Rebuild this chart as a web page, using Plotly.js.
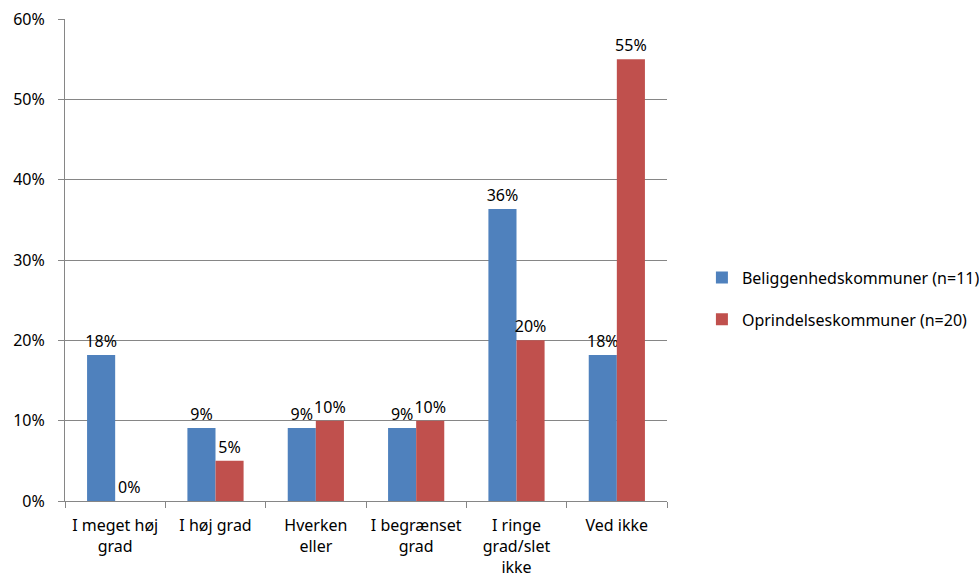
<!DOCTYPE html>
<html><head><meta charset="utf-8">
<script src="https://cdn.plot.ly/plotly-3.0.1.min.js"></script>
<style>html,body{margin:0;padding:0;background:#fff}</style>
</head><body>
<div id="chart" style="width:979px;height:582px"></div>
<script>
const categories = ["I meget høj<br>grad", "I høj grad", "Hverken<br>eller", "I begrænset<br>grad", "I ringe<br>grad/slet<br>ikke", "Ved ikke"];
const seriesNames = ["Beliggenhedskommuner (n=11)", "Oprindelseskommuner (n=20)"];
const beliggenhed = [0.1818, 0.0909, 0.0909, 0.0909, 0.3636, 0.1818];
const oprindelse = [0.00, 0.05, 0.10, 0.10, 0.20, 0.55];
const tickVals = [0, 0.1, 0.2, 0.3, 0.4, 0.5, 0.6];

const font = {family: "Noto Sans, Liberation Sans, sans-serif", size: 16, color: "#000"};
const mk = (name, y, color, grp) => ({
  type: "bar", name: name, x: categories, y: y,
  marker: {color: color},
  texttemplate: "%{y:.0%}", textposition: "outside", constraintext: "none",
  textfont: font, cliponaxis: false, legendgroup: grp,
  hoverinfo: "skip"
});
const data = [
  mk(seriesNames[0], beliggenhed, "#4F81BD", "a"),
  mk(seriesNames[1], oprindelse, "#C0504D", "b")
];
const layout = {
  width: 979, height: 582,
  margin: {l: 65, r: 312, t: 19, b: 81, autoexpand: false},
  paper_bgcolor: "#fff", plot_bgcolor: "#fff",
  font: font,
  barmode: "group", bargap: 0.44, bargroupgap: 0,
  showlegend: true,
  legend: {x: 1.058, y: 0.42, xanchor: "left", yanchor: "middle", font: font,
           tracegroupgap: 18, traceorder: "grouped", itemwidth: 30},
  xaxis: {type: "category", showline: true, linecolor: "#868686", linewidth: 1,
          ticks: "outside", tickson: "boundaries", ticklen: 6, tickcolor: "#868686",
          ticklabelstandoff: 10, tickangle: 0, automargin: false,
          tickfont: font, showgrid: false, zeroline: false, fixedrange: true},
  yaxis: {range: [0, 0.6], tickvals: tickVals, tickformat: ".0%",
          showline: true, linecolor: "#868686", linewidth: 1,
          ticks: "outside", ticklen: 6, tickcolor: "#868686",
          ticklabelstandoff: 10, automargin: false,
          showgrid: true, gridcolor: "#868686", gridwidth: 1,
          zeroline: false, tickfont: font, fixedrange: true}
};
Plotly.newPlot("chart", data, layout, {displayModeBar: false, staticPlot: true});
</script>
</body></html>
